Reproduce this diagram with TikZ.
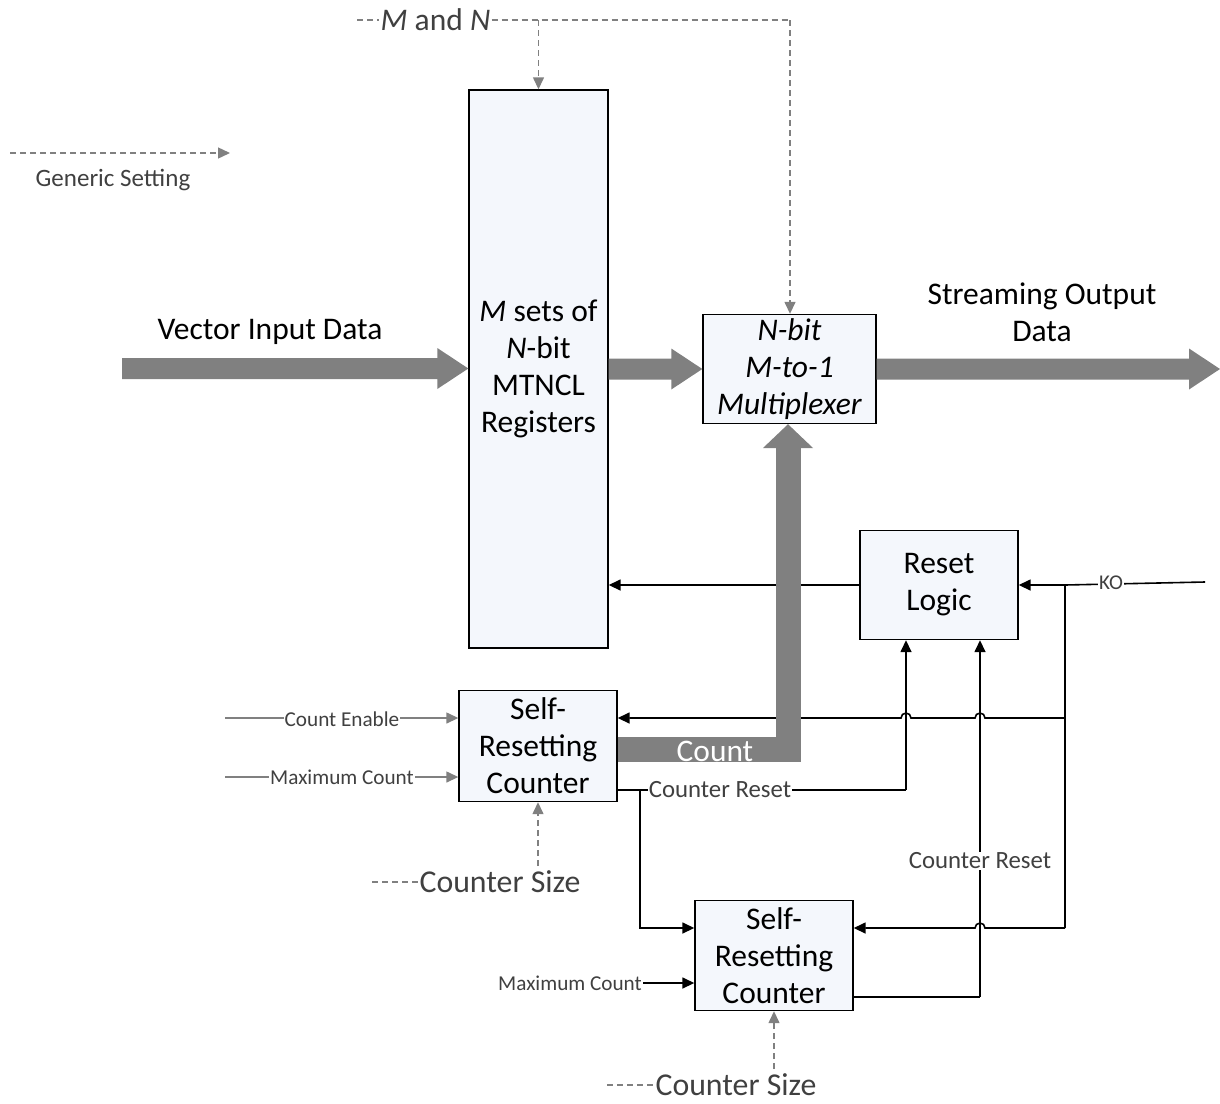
\documentclass[tikz,border=0pt]{standalone}
\usepackage{fontspec}
\setmainfont{Carlito}
\usetikzlibrary{arrows.meta,calc}
\definecolor{fatgray}{HTML}{808080}
\definecolor{lblgray}{HTML}{404040}
\definecolor{boxfill}{HTML}{F4F7FC}
\tikzset{
  blockbox/.style={draw=black,line width=1.4pt,fill=boxfill,align=center,inner sep=0pt,
     font=\fontsize{31.5}{37}\selectfont},
  wire/.style={draw=black,line width=1.6pt},
  wirearrow/.style={wire,-{Triangle[length=12pt,width=11pt]}},
  graywire/.style={draw=fatgray,line width=1.4pt},
  grayarrow/.style={graywire,-{Triangle[length=12pt,width=11pt]}},
  dashline/.style={draw=fatgray,line width=1.4pt,dash pattern=on 6pt off 4pt},
  dasharrow/.style={dashline,-{Triangle[length=12pt,width=11pt]}},
  smalllbl/.style={text=lblgray,fill=white,inner sep=1pt,font=\fontsize{21.2}{24}\selectfont},
  midlbl/.style={text=lblgray,fill=white,inner sep=1pt,font=\fontsize{24.8}{28}\selectfont},
  biglbl/.style={text=lblgray,inner sep=0pt,font=\fontsize{31.8}{34}\selectfont},
  mainlbl/.style={text=black,align=center,inner sep=0pt,font=\fontsize{31.5}{37}\selectfont},
}
\newcommand\hfat[2]{\fill[fatgray] let \p1=(#1), \p2=(#2) in
  (\x1,\y1+10.5pt) -- (\x2-31pt,\y1+10.5pt) -- (\x2-31pt,\y1+20.5pt) -- (\x2,\y1)
  -- (\x2-31pt,\y1-20.5pt) -- (\x2-31pt,\y1-10.5pt) -- (\x1,\y1-10.5pt) -- cycle;}
\begin{document}
\begin{tikzpicture}[x=1pt,y=-1pt]
\useasboundingbox (0,0) rectangle (1220,1103);

% blocks
\node[blockbox,minimum width=139pt,minimum height=558pt] (reg) at (538.5,369)
  {\textit{M} sets of\\\textit{N}-bit\\MTNCL\\Registers};
\node[blockbox,minimum width=173pt,minimum height=109pt] (mux) at (789.5,369)
  {\textit{N-bit}\\\textit{M-to-1}\\\textit{Multiplexer}};
\node[blockbox,minimum width=158pt,minimum height=109pt] (rst) at (939,585)
  {Reset\\Logic};
\node[blockbox,minimum width=158pt,minimum height=111pt] (cA) at (538,746)
  {Self-\\Resetting\\Counter};
\node[blockbox,minimum width=158pt,minimum height=110pt] (cB) at (774,955.5)
  {Self-\\Resetting\\Counter};

% fat data arrows
\coordinate (vin) at (122,368.5);
\coordinate (vout) at (1220,368.5);
\hfat{vin}{reg.west}
\hfat{reg.east}{mux.west}
\hfat{mux.east}{vout}
\node[mainlbl] (vinl) at (270,332) {Vector Input Data};
\node[mainlbl] (voutl) at (1042,312) {Streaming Output\\Data};

% generic settings
\coordinate (gs1) at (10,153);
\coordinate (gs2) at (230,153);
\draw[dasharrow] (gs1) -- (gs2);
\node[text=lblgray,font=\fontsize{25}{28}\selectfont] (gsl) at (113,180) {Generic Setting};

\node[text=lblgray,inner sep=1pt,font=\fontsize{31.5}{34}\selectfont] (mn) at (435.5,20) {\textit{M} and \textit{N}};
\coordinate (mn0) at (357,20);
\coordinate (mnr) at (790,20);
\coordinate (mnb) at (538.5,20);
\draw[dashline] (mn0) -- (mn.west);
\draw[dashline] (mn.east) -- (mnr);
\draw[dasharrow] (mnr) -- (mnr |- mux.north);
\draw[dasharrow] (mnb) -- (reg.north);

% reset logic to registers
\draw[wirearrow] (rst.west) -- (rst.west -| reg.east);

% KO
\coordinate (ko) at (1205,582);
\coordinate (kj) at (1065,585);
\coordinate (kbot) at (1065,928);
\coordinate (kmid) at (1065,718);
\draw[wire] (ko) -- (kj);
\draw[wirearrow] (kj) -- (rst.east);
\node[text=lblgray,fill=white,inner sep=1pt,font=\fontsize{21}{24}\selectfont] (kol) at (1111,583) {KO};
\draw[wire] (kj) -- (kbot);

% KO to counter A, with hops over x=906 and x=980
\draw[wirearrow] (kmid) -- (985,718) arc[start angle=0,end angle=180,radius=5pt]
  -- (911,718) arc[start angle=0,end angle=180,radius=5pt] -- (cA.east |- kmid);
% KO to counter B, hop over x=980
\draw[wirearrow] (kbot) -- (985,928) arc[start angle=0,end angle=180,radius=5pt]
  -- (cB.east |- kbot);

% Counter reset A
\coordinate (crA) at (906,790);
\coordinate (brA) at (640,790);
\coordinate (brA2) at (640,928);
\draw[wire] (cA.east |- crA) -- (crA);
\draw[wirearrow] (crA) -- (crA |- rst.south);
\draw[wirearrow] (brA) -- (brA2) -- (cB.west |- brA2);
\node[midlbl] (crAl) at (720,790) {Counter Reset};

% Counter reset B
\coordinate (crB) at (980,997);
\draw[wire] (cB.east |- crB) -- (crB);
\draw[wirearrow] (crB) -- (crB |- rst.south);
\node[midlbl] (crBl) at (980,861) {Counter Reset};

% inputs to counter A
\coordinate (ceA) at (225,718);
\coordinate (mcA) at (225,777);
\draw[grayarrow] (ceA) -- (cA.west |- ceA);
\draw[grayarrow] (mcA) -- (cA.west |- mcA);
\node[smalllbl] (cel) at (342,719) {Count Enable};
\node[smalllbl] (mcl) at (342,777) {Maximum Count};

% input to counter B
\node[text=lblgray,inner sep=1pt,font=\fontsize{21.2}{24}\selectfont] (mcBl) at (570,983) {Maximum Count};
\draw[wirearrow] (mcBl.east) -- (cB.west |- mcBl.east);

% counter sizes
\node[biglbl] (csA) at (500,882) {Counter Size};
\coordinate (csA0) at (372,882);
\coordinate (csAup) at (538,866);
\draw[dashline] (csA0) -- (csA.west);
\draw[dasharrow] (csAup) -- (cA.south);

\node[biglbl] (csB) at (736,1085) {Counter Size};
\coordinate (csB0) at (607,1085);
\coordinate (csBup) at (774,1069);
\draw[dashline] (csB0) -- (csB.west);
\draw[dasharrow] (csBup) -- (cB.south);

% Count bus
\coordinate (cnt1) at (788,749.5);
\coordinate (cnt2) at (788,448);
\draw[fatgray,line width=25pt,line join=miter] (cA.east |- cnt1) -- (cnt1) -- (cnt2);
\fill[fatgray] (763,448) -- (813,448) -- (mux.south -| cnt1) -- cycle;
\node[text=white,font=\fontsize{31.4}{34}\selectfont,inner sep=0pt] (cntl) at (715,751) {Count};
\end{tikzpicture}
\end{document}
